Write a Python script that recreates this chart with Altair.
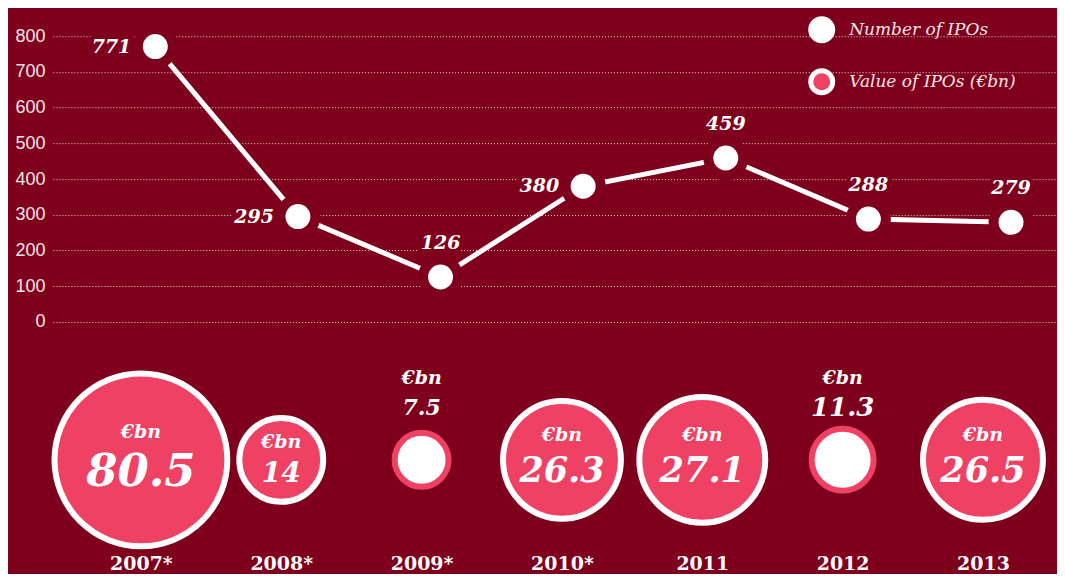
import altair as alt
import pandas as pd

# ---- data ----
years = ["2007*", "2008*", "2009*", "2010*", "2011", "2012", "2013"]
num_ipos = [771, 295, 126, 380, 459, 288, 279]
val_ipos = [80.5, 14, 7.5, 26.3, 27.1, 11.3, 26.5]
left_label_years = ["2007*", "2008*", "2010*"]
series_names = ["Number of IPOs", "Value of IPOs (€bn)"]
unit_label = "€bn"
y_ticks = [0, 100, 200, 300, 400, 500, 600, 700, 800]

# ---- styles ----
BG = "#7e001c"
PINK = "#ef4164"
LIGHT = "#f3e6e8"
SERIF = "DejaVu Serif"
SANS = "Liberation Sans"
SMALL = 12  # bubbles below this value are drawn hollow with label above

df = pd.DataFrame({"year": years, "n": num_ipos, "v": val_ipos})
df["unit"] = unit_label
df["vtxt"] = [f"{x:g}" for x in val_ipos]
df["series"] = series_names[0]

base = alt.Chart(df)

# ---------------- top: number of IPOs ----------------
x_top = alt.X("year:N", sort=years, axis=None,
              scale=alt.Scale(type="point", padding=0.52, align=0.69))
y_top = alt.Y("n:Q",
              scale=alt.Scale(domain=[0, 878.3], nice=False, zero=False),
              axis=alt.Axis(values=y_ticks, grid=True, gridDash=[1, 2],
                            gridColor="white", gridOpacity=0.85, gridWidth=1,
                            domain=False, ticks=False, tickSize=0,
                            labelPadding=8, labelFont=SANS, labelFontSize=18,
                            labelColor=LIGHT, title=None))

line = base.mark_line(color="white", strokeWidth=5).encode(x=x_top, y=y_top)

pts = base.mark_circle(size=1225, opacity=1, stroke=BG, strokeWidth=10).encode(
    x=x_top, y=y_top,
    color=alt.Color(
        "series:N",
        scale=alt.Scale(domain=series_names, range=["white", PINK]),
        legend=alt.Legend(title=None, orient="none", legendX=756, legendY=8,
                          direction="vertical", symbolType="circle",
                          symbolSize=484, symbolStrokeColor="white",
                          symbolStrokeWidth=5, symbolOpacity=1,
                          labelFont=SERIF, labelFontStyle="italic",
                          labelFontSize=17, labelColor=LIGHT, labelLimit=400,
                          labelOffset=14, rowPadding=9, padding=0)))

left_f = alt.FieldOneOfPredicate(field="year", oneOf=left_label_years)
top_f = {"not": left_f}

txt_style = dict(font=SERIF, fontSize=19, fontWeight="bold", fontStyle="italic",
                 baseline="middle")


def labels(pred, **kw):
    knock = base.transform_filter(pred).mark_text(
        fill=BG, stroke=BG, strokeWidth=8, **txt_style, **kw
    ).encode(x=x_top, y=y_top, text="n:Q")
    lab = base.transform_filter(pred).mark_text(
        color="white", **txt_style, **kw
    ).encode(x=x_top, y=y_top, text="n:Q")
    return [knock, lab]


top = alt.layer(
    line, pts,
    *labels(left_f, align="right", dx=-24),
    *labels(top_f, align="center", dy=-34),
).properties(width=1005, height=314)

# ---------------- bottom: value of IPOs ----------------
x_bot = alt.X("year:N", sort=years,
              scale=alt.Scale(type="point", padding=0.577, align=0.543),
              axis=alt.Axis(title=None, labelAngle=0, domain=False, ticks=False,
                            labelPadding=15, labelFont=SERIF, labelFontSize=19,
                            labelFontWeight="bold", labelColor="white", grid=False))

bubble_scale = alt.Scale(domain=[7.5, 11.3, 14, 26.3, 27.1, 80.5],
                         range=[2916, 3844, 7056, 13924, 15876, 29929])
font_scale = alt.Scale(domain=[7.5, 11.3, 14, 26.3, 80.5],
                       range=[22, 26, 28, 35, 45])
unit_offset_scale = alt.Scale(domain=[14, 26.3, 80.5], range=[-18, -25, -28])
value_offset_scale = alt.Scale(domain=[14, 26.3, 80.5], range=[14, 11, 12])

big_f = f"datum.v >= {SMALL}"
small_f = f"datum.v < {SMALL}"

big = base.transform_filter(big_f).mark_circle(
    fill=PINK, stroke="white", strokeWidth=6, opacity=1
).encode(x=x_bot, size=alt.Size("v:Q", scale=bubble_scale, legend=None))

small = base.transform_filter(small_f).mark_circle(
    fill="white", stroke=PINK, strokeWidth=6, opacity=1
).encode(x=x_bot, size=alt.Size("v:Q", scale=bubble_scale, legend=None))

bstyle = dict(font=SERIF, fontWeight="bold", fontStyle="italic", baseline="middle",
              align="center", color="white")

in_unit = base.transform_filter(big_f).mark_text(fontSize=19, **bstyle).encode(
    x=x_bot, text="unit:N",
    yOffset=alt.YOffset("v:Q", scale=unit_offset_scale))
in_val = base.transform_filter(big_f).mark_text(**bstyle).encode(
    x=x_bot, text="vtxt:N", size=alt.Size("v:Q", scale=font_scale, legend=None),
    yOffset=alt.YOffset("v:Q", scale=value_offset_scale))
out_unit = base.transform_filter(small_f).mark_text(dy=-82, fontSize=19, **bstyle).encode(
    x=x_bot, text="unit:N")
out_val = base.transform_filter(small_f).mark_text(dy=-52, **bstyle).encode(
    x=x_bot, text="vtxt:N", size=alt.Size("v:Q", scale=font_scale, legend=None))

bottom = alt.layer(big, small, in_unit, in_val, out_unit, out_val).resolve_scale(
    size="independent", yOffset="independent").properties(width=1005, height=160)

chart = alt.vconcat(top, bottom, spacing=58, bounds="flush").resolve_scale(
    x="independent", color="independent", size="independent"
).properties(
    padding={"left": 6, "top": 0, "right": 0, "bottom": 0}
).configure(background=BG).configure_view(stroke=None)

chart.save("out.html", embed_options={"renderer": "svg", "actions": False})
